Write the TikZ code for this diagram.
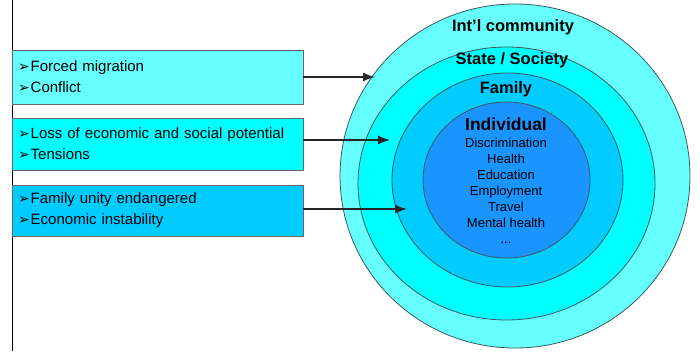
\documentclass[tikz,border=0pt]{standalone}
\usepackage{fontspec}
\setmainfont{Liberation Sans}
\newfontfamily\symfont{DejaVu Sans}
\usetikzlibrary{arrows.meta}

\definecolor{ringintl}{HTML}{66FFFF}
\definecolor{ringstate}{HTML}{00FFFF}
\definecolor{ringfamily}{HTML}{00CCFF}
\definecolor{ringindiv}{HTML}{1A94FF}
\definecolor{rimgray}{HTML}{3C5A5A}
\newcommand*{\pointer}{{\symfont\fontsize{14}{14}\selectfont ➢}\hspace{1pt}}

\begin{document}
\begin{tikzpicture}[x=1pt, y=-1pt,
    ring/.style={draw=rimgray, line width=0.8pt},
    ringlabel/.style={font=\bfseries\fontsize{16.5}{18}\selectfont},
    effectbox/.style={draw=gray!80!black, line width=0.9pt, text width=279pt,
        inner sep=6pt, align=left, font=\fontsize{15}{21}\selectfont},
    impact/.style={-{Latex[length=12pt,width=9pt]}, line width=1.4pt, draw=black!85}]
    \useasboundingbox (0,0) rectangle (700,351);

    % nested circles
    \draw[ring, fill=ringintl] (515,176) ellipse [x radius=175pt, y radius=172pt];
    \draw[ring, fill=ringstate] (506.5,183.5) ellipse [x radius=148.5pt, y radius=136.5pt];
    \draw[ring, fill=ringfamily] (507.5,180) ellipse [x radius=115.5pt, y radius=107pt];
    \draw[ring, fill=ringindiv] (506.5,180) ellipse [x radius=83.5pt, y radius=78pt];

    \node[ringlabel] (lintl) at (513,27) {Int'l community};
    \node[ringlabel] (lstate) at (512,60) {State / Society};
    \node[ringlabel] (lfamily) at (506,89) {Family};
    \node[ringlabel, font=\bfseries\fontsize{17.5}{19}\selectfont] (lindiv) at (506,124) {Individual};
    \node[align=center, font=\fontsize{13}{16}\selectfont] (issues) at (506,190.5)
        {Discrimination\\Health\\Education\\Employment\\Travel\\Mental health\\...};

    % left margin line
    \draw[line width=0.9pt] (12,0) -- (12,351);

    % effects
    \node[effectbox, fill=ringintl, minimum height=54pt] (intl) at (157.5,77)
        {\pointer Forced migration\\\pointer Conflict};
    \node[effectbox, fill=ringstate, minimum height=52pt] (society) at (157.5,144)
        {\pointer Loss of economic and social potential\\\pointer Tensions};
    \node[effectbox, fill=ringfamily, minimum height=51pt] (family) at (157.5,210.5)
        {\pointer Family unity endangered\\\pointer Economic instability};

    \coordinate (tip1) at (375,77);
    \coordinate (tip2) at (390,140);
    \coordinate (tip3) at (407,209);
    \draw[impact] (tip1 -| intl.east) -- (tip1);
    \draw[impact] (tip2 -| society.east) -- (tip2);
    \draw[impact] (tip3 -| family.east) -- (tip3);
\end{tikzpicture}
\end{document}
